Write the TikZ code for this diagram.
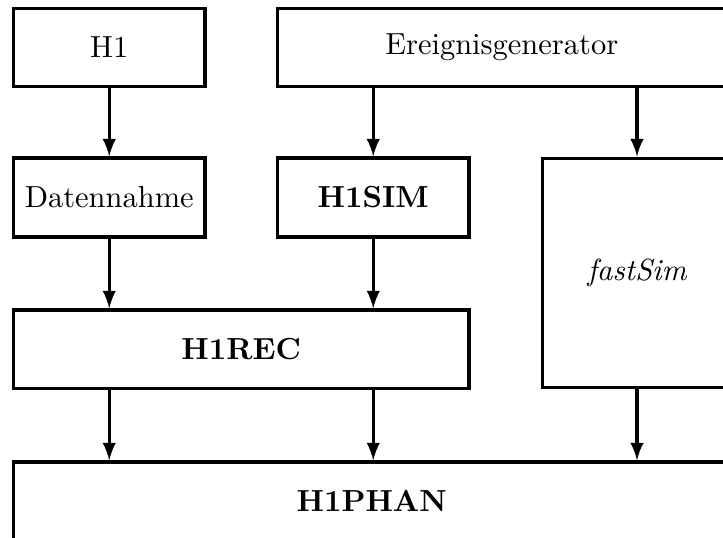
\documentclass[tikz,border=0pt]{standalone}
\usetikzlibrary{arrows}
\tikzstyle{block} = [align=center,draw=black,rectangle,text centered,line width=1pt,inner sep=0pt]
\tikzstyle{flow} = [->,>=latex,line width=1pt]

\begin{document}
\begin{tikzpicture}[x=0.328pt,y=-0.328pt]
	\clip (0,0) rectangle (723,537);
	\useasboundingbox (0,0) rectangle (723,537);
	% row 1
	\node (h1) [block,minimum width=62.8pt,minimum height=25.6pt] at (109.25,47.25) {H1};
	\node (gen) [block,minimum width=147.1pt,minimum height=25.6pt] at (501.75,47.25) {Ereignisgenerator};
	% row 2
	\node (daq) [block,minimum width=62.8pt,minimum height=25.9pt] at (109.25,197.5) {Datennahme};
	\node (sim) [block,minimum width=62.8pt,minimum height=25.9pt] at (373.25,197.5) {\bfseries H1SIM};
	\node (fast) [block,minimum width=61.7pt,minimum height=75.4pt] at (637,273) {\itshape fastSim};
	% row 3
	\node (rec) [block,minimum width=149.4pt,minimum height=25.6pt] at (241.25,349) {\bfseries H1REC};
	% row 4
	\node (phan) [block,minimum width=235pt,minimum height=25.6pt] at (371.75,501) {\bfseries H1PHAN};
	% arrows
	\draw [flow] (h1) -- (daq);
	\draw [flow] (gen.south -| sim) -- (sim);
	\draw [flow] (gen.south -| fast) -- (fast);
	\draw [flow] (daq) -- (rec.north -| daq);
	\draw [flow] (sim) -- (rec.north -| sim);
	\draw [flow] (rec.south -| daq) -- (phan.north -| daq);
	\draw [flow] (rec.south -| sim) -- (phan.north -| sim);
	\draw [flow] (fast) -- (phan.north -| fast);
\end{tikzpicture}
\end{document}
